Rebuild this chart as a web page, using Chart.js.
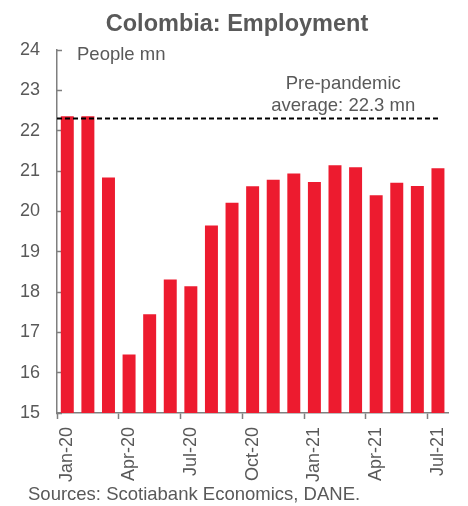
<html>
    <body style="margin:0; background:#fff;">
        <div id="chart_div" style="width: 468px; height: 506px;">
            <canvas id="myChart" width="468" height="506"></canvas>
        </div>
        <script src="https://cdn.jsdelivr.net/npm/chart.js@4/dist/chart.umd.min.js"></script>
        <script>
            const months = [
                "Jan-20", "Feb-20", "Mar-20", "Apr-20", "May-20", "Jun-20", "Jul-20",
                "Aug-20", "Sep-20", "Oct-20", "Nov-20", "Dec-20", "Jan-21", "Feb-21",
                "Mar-21", "Apr-21", "May-21", "Jun-21", "Jul-21"
            ];
            // employed people, millions
            const employment = [
                22.36, 22.36, 20.84, 16.45, 17.45, 18.31, 18.14,
                19.65, 20.21, 20.62, 20.78, 20.94, 20.73, 21.14,
                21.09, 20.40, 20.71, 20.63, 21.07
            ];
            const prePandemicAvg = 22.3;
            const yTicks = [15, 16, 17, 18, 19, 20, 21, 22, 23, 24];

            const grey = "#595959";
            const axisGrey = "#7f7f7f";
            const fontFamily = "'Liberation Sans', Arial, sans-serif";

            // title, dashed average line + free text labels
            const extras = {
                id: "extras",
                afterDatasetsDraw(chart) {
                    const { ctx, chartArea, scales } = chart;
                    const y = scales.y.getPixelForValue(prePandemicAvg);
                    const xEnd = scales.x.getPixelForValue(months.length - 1) + 1;
                    ctx.save();
                    ctx.strokeStyle = "#000";
                    ctx.lineWidth = 2;
                    ctx.setLineDash([5, 3]);
                    ctx.beginPath();
                    ctx.moveTo(chartArea.left, y);
                    ctx.lineTo(xEnd, y);
                    ctx.stroke();
                    ctx.setLineDash([]);

                    ctx.fillStyle = grey;
                    ctx.textAlign = "center";
                    ctx.textBaseline = "alphabetic";
                    ctx.font = "bold 23.5px " + fontFamily;
                    ctx.fillText("Colombia: Employment", 237, 31);

                    ctx.font = "18.5px " + fontFamily;
                    ctx.textBaseline = "middle";
                    ctx.textAlign = "left";
                    ctx.fillText("People mn", chartArea.left + 20, chartArea.top + 5);
                    ctx.textAlign = "center";
                    ctx.fillText("Pre-pandemic", chartArea.right - 105, chartArea.top + 34);
                    ctx.fillText("average: 22.3 mn", chartArea.right - 105, chartArea.top + 56);
                    ctx.textAlign = "left";
                    ctx.fillText("Sources: Scotiabank Economics, DANE.", 28, chart.height - 11);
                    ctx.restore();
                }
            };

            let myChart = new Chart("myChart", {
                type: "bar",
                data: {
                    labels: months,
                    datasets: [{
                        data: employment,
                        backgroundColor: "#ed1b2f",
                        barPercentage: 0.63,
                        categoryPercentage: 1
                    }]
                },
                options: {
                    responsive: false,
                    animation: false,
                    layout: { padding: { top: 50, left: 0, right: 17, bottom: 21 } },
                    plugins: {
                        legend: { display: false },
                        tooltip: { enabled: false },
                        title: { display: false }
                    },
                    scales: {
                        x: {
                            grid: {
                                offset: true,
                                drawOnChartArea: false,
                                tickLength: 6,
                                tickWidth: 1.5,
                                tickColor: (c) => (c.index % 3 === 0 ? axisGrey : "transparent")
                            },
                            border: { color: axisGrey, width: 1.5 },
                            ticks: {
                                autoSkip: false,
                                minRotation: 90,
                                maxRotation: 90,
                                padding: 8,
                                color: grey,
                                font: { family: fontFamily, size: 18 },
                                callback: (v, i) => (i % 3 === 0 ? months[i] : "")
                            },
                            afterFit: (s) => { s.height = 72; }
                        },
                        y: {
                            min: 15,
                            max: 24,
                            afterBuildTicks: (s) => { s.ticks = yTicks.map((v) => ({ value: v })); },
                            grid: {
                                drawOnChartArea: false,
                                tickLength: -5,
                                tickWidth: 1.5,
                                tickColor: axisGrey
                            },
                            border: { color: axisGrey, width: 1.5 },
                            ticks: {
                                padding: 22,
                                color: grey,
                                font: { family: fontFamily, size: 18 }
                            },
                            afterFit: (s) => { s.width = 57; }
                        }
                    }
                },
                plugins: [extras]
            });
        </script>
    </body>
</html>
